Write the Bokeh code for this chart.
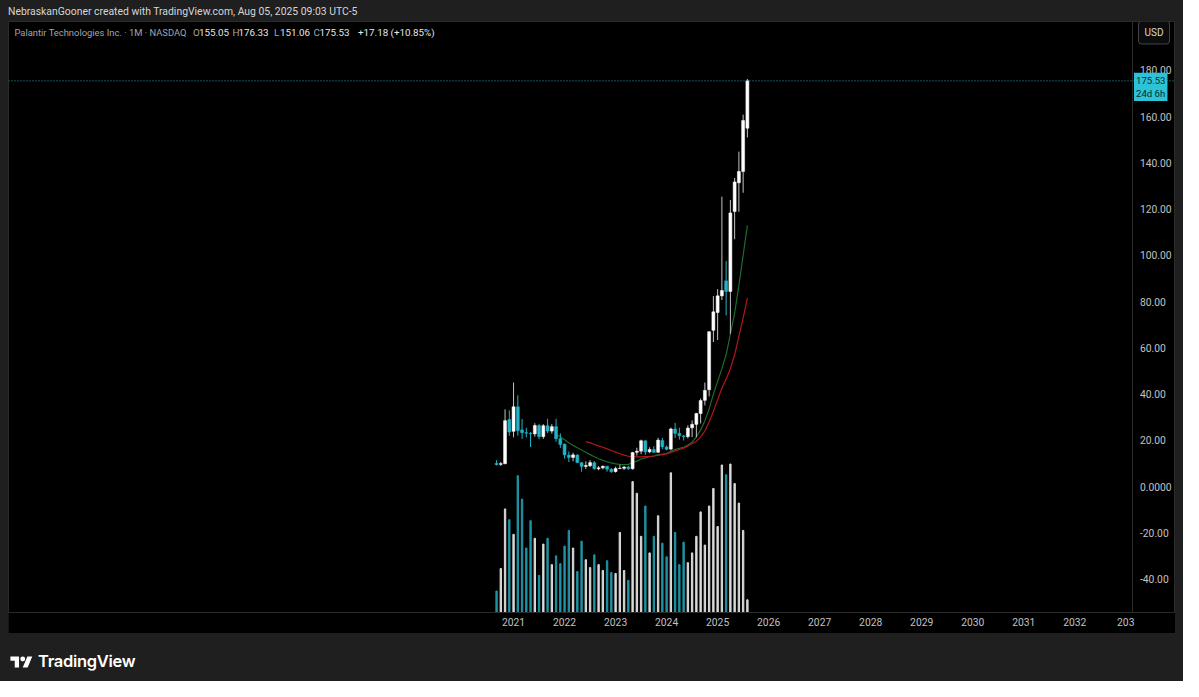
import pandas as pd
from bokeh.plotting import figure
from bokeh.models import (ColumnDataSource, Range1d, FixedTicker, NumeralTickFormatter,
                          Span, Label, Div)
from bokeh.layouts import column, row
from bokeh.embed import file_html
from bokeh.resources import INLINE

# ---------------- data (monthly PLTR candles) ----------------
start_month = "2020-09"
opens = [10.00, 9.60, 9.90, 29.00, 23.90, 34.50, 24.50, 23.30, 23.00, 22.80, 26.40, 21.60,
         26.30, 24.00, 25.90, 20.70, 18.30, 13.60, 12.60, 13.60, 10.30, 8.70, 9.00, 10.30,
         7.70, 8.10, 8.80, 7.50, 6.50, 7.80, 7.90, 8.40, 7.70, 14.80, 15.30, 19.80,
         15.00, 16.00, 14.80, 19.90, 17.10, 16.20, 24.90, 23.00, 21.90, 21.60, 25.40, 26.90,
         31.60, 37.30, 41.90, 67.60, 75.30, 82.50, 89.00, 84.40, 119.00, 131.40, 136.30, 155.05]
highs = [11.40, 10.60, 33.40, 33.00, 45.00, 39.50, 29.20, 25.40, 23.60, 27.40, 27.00, 27.00,
         29.30, 27.00, 29.30, 23.00, 18.60, 15.20, 14.60, 14.00, 10.60, 10.90, 11.40, 11.00,
         8.80, 9.00, 8.90, 7.90, 8.60, 9.40, 8.80, 9.00, 15.00, 16.80, 20.30, 19.90,
         17.00, 17.50, 21.10, 21.00, 17.80, 25.50, 27.50, 25.40, 22.30, 26.50, 28.60, 31.90,
         38.10, 45.00, 67.20, 82.40, 85.40, 125.40, 97.60, 124.00, 133.50, 144.90, 160.90, 176.33]
lows = [9.10, 8.90, 9.60, 21.90, 21.30, 22.00, 20.60, 21.30, 17.10, 21.60, 20.50, 20.60,
        23.10, 22.90, 19.40, 16.70, 12.10, 10.60, 10.90, 10.20, 6.40, 7.60, 8.40, 7.30,
        7.00, 7.40, 6.40, 6.00, 6.00, 7.50, 7.20, 7.30, 7.30, 13.40, 14.00, 13.70,
        14.40, 14.60, 14.70, 16.20, 15.70, 15.70, 21.00, 20.30, 19.90, 20.80, 21.40, 21.30,
        27.30, 35.10, 39.00, 62.50, 63.40, 80.70, 74.00, 66.10, 107.00, 118.90, 127.10, 151.06]
closes = [9.50, 9.90, 28.50, 23.60, 34.50, 24.20, 23.30, 23.10, 22.80, 26.40, 21.60, 26.30,
          24.00, 25.90, 20.70, 18.20, 13.70, 12.60, 13.70, 10.35, 8.70, 9.10, 10.35, 7.70,
          8.10, 8.80, 7.50, 6.40, 7.80, 7.90, 8.45, 7.70, 14.70, 15.30, 19.80, 15.00,
          16.00, 14.80, 20.10, 17.20, 16.10, 24.90, 23.00, 22.00, 21.60, 25.30, 26.90, 31.60,
          37.20, 41.60, 66.97, 75.60, 82.50, 84.80, 84.40, 118.40, 131.80, 136.30, 158.35, 175.53]
volumes = [220, 450, 1060, 950, 800, 1400, 1160, 660, 940, 760, 380, 700,
           760, 490, 580, 500, 680, 840, 660, 420, 730, 540, 460, 590,
           490, 430, 530, 410, 400, 820, 430, 330, 1340, 1220, 780, 1090,
           610, 780, 990, 710, 570, 1430, 820, 490, 720, 510, 610, 780,
           1030, 690, 1090, 1270, 880, 1510, 1410, 1520, 1320, 1120, 840, 130]

ma_fast_start = "2021-11"
ma_fast = [22.5, 21.5, 20.2, 18.9, 17.8, 16.8, 15.8, 14.8, 13.8, 12.9, 12.0, 11.3, 10.7,
           10.2, 9.8, 9.6, 9.5, 9.6, 10.3, 11.0, 11.9, 12.4, 12.9, 13.2, 13.8, 14.0, 14.3,
           15.3, 16.0, 16.5, 17.0, 18.0, 19.2, 21.5, 24.5, 28.5, 33.5, 40.0, 45.5, 51.0,
           57.0, 66.0, 75.0, 87.0, 100.0, 113.0]
ma_slow_start = "2022-06"
ma_slow = [19.4, 18.9, 18.3, 17.6, 17.0, 16.3, 15.6, 14.9, 14.2, 13.6, 13.1, 12.9, 12.8,
           12.8, 12.9, 13.0, 13.2, 13.5, 13.8, 14.1, 14.8, 15.4, 16.0, 16.6, 17.6, 18.6,
           19.5, 21.5, 24.0, 28.0, 32.5, 37.5, 42.5, 46.5, 51.0, 57.0, 65.0, 73.0, 81.5]

year_labels = ["2021", "2022", "2023", "2024", "2025", "2026", "2027", "2028",
               "2029", "2030", "2031", "2032", "203"]
price_ticks = [-40, -20, 0, 20, 40, 60, 80, 100, 120, 140, 160, 180]

header_text = "NebraskanGooner created with TradingView.com, Aug 05, 2025 09:03 UTC-5"
symbol_title = "Palantir Technologies Inc. · 1M · NASDAQ"
change_text = "+17.18 (+10.85%)"
countdown = "24d 6h"

# ---------------- styling / layout ----------------
UP = "#ffffff"
UP_WICK = "#c4c4c4"
DOWN = "#22b4c6"
VOL_UP = "#dadada"
VOL_DOWN = "#1f93a3"
OUTER = "#1f1f1f"
FONT = "Roboto"
X_VIEW = (-118.8, 155.7)      # visible months (0 = Jan 2021)
Y_VIEW = (-54.5, 201.2)       # visible price range
PRICE_SCALE_AT = 145.7        # month position of the price-scale separator


def month_index(periods):
    return [(q.year - 2021) * 12 + (q.month - 1) for q in periods]


months = pd.period_range(start_month, periods=len(closes), freq="M")
xs = month_index(months)
up = [c >= o for o, c in zip(opens, closes)]
src = ColumnDataSource(dict(
    x=xs,
    top=[max(o, c) for o, c in zip(opens, closes)],
    bottom=[min(o, c) for o, c in zip(opens, closes)],
    high=highs, low=lows, vol=volumes,
    body=[UP if u else DOWN for u in up],
    wick=[UP_WICK if u else DOWN for u in up],
    vcol=[VOL_UP if u else VOL_DOWN for u in up],
))

fast_x = month_index(pd.period_range(ma_fast_start, periods=len(ma_fast), freq="M"))
slow_x = month_index(pd.period_range(ma_slow_start, periods=len(ma_slow), freq="M"))

p = figure(width=1167, height=612,
           x_range=Range1d(*X_VIEW), y_range=Range1d(*Y_VIEW),
           output_backend="svg", toolbar_location=None, y_axis_location="right",
           background_fill_color="black", border_fill_color="black",
           min_border_left=0, min_border_top=0, min_border_right=0, min_border_bottom=21,
           outline_line_color="#2b2b2b", margin=0)
p.grid.visible = False
p.extra_y_ranges = {"vol": Range1d(0, 6050)}

# volume (overlay at the bottom of the pane)
p.vbar(x="x", top="vol", bottom=0, width=0.32, color="vcol", y_range_name="vol", source=src)

# moving averages
p.line(fast_x, ma_fast, line_color="#1c6b2c", line_width=1.2)
p.line(slow_x, ma_slow, line_color="#b3161c", line_width=1.2)

# candles
p.segment(x0="x", y0="low", x1="x", y1="high", line_color="wick", line_width=1, source=src)
p.vbar(x="x", top="top", bottom="bottom", width=0.7, fill_color="body", line_color="body",
       line_width=0.5, source=src)

# last price line
p.add_layout(Span(location=closes[-1], dimension="width", line_color="#2f9fb0",
                  line_dash="1 2", line_width=1))

# price scale (drawn at the pane separator)
ya = p.yaxis[0]
ya.fixed_location = PRICE_SCALE_AT
ya.ticker = FixedTicker(ticks=price_ticks)
ya.formatter = NumeralTickFormatter(format="0.00")
ya.major_label_overrides = {0: "0.0000"}
ya.major_tick_line_color = None
ya.minor_tick_line_color = None
ya.major_tick_out = 0
ya.major_tick_in = 0
ya.minor_tick_out = 0
ya.axis_line_color = "#2b2b2b"
ya.major_label_text_color = "#c2c2c2"
ya.major_label_text_font = FONT
ya.major_label_text_font_size = "10.3px"
ya.major_label_standoff = 7

# time scale
xa = p.xaxis[0]
xa.ticker = FixedTicker(ticks=[12 * i for i in range(len(year_labels))])
xa.major_label_overrides = {12 * i: lab for i, lab in enumerate(year_labels)}
xa.major_tick_line_color = None
xa.minor_tick_line_color = None
xa.major_tick_out = 0
xa.major_tick_in = 0
xa.minor_tick_out = 0
xa.axis_line_color = "#2b2b2b"
xa.major_label_text_color = "#c2c2c2"
xa.major_label_text_font = FONT
xa.major_label_text_font_size = "10.3px"
xa.major_label_standoff = 5

# legend line (top-left of the pane)
legend_y = 580
pieces = [
    (symbol_title, "#a3a6af", 6, "9.4px"),
    ("O", "#a3a6af", 184.5, "9.8px"), (f"{opens[-1]:.2f}", "#e6e6e6", 190.5, "9.8px"),
    ("H", "#a3a6af", 224, "9.8px"), (f"{highs[-1]:.2f}", "#e6e6e6", 230, "9.8px"),
    ("L", "#a3a6af", 265.5, "9.8px"), (f"{lows[-1]:.2f}", "#e6e6e6", 271.5, "9.8px"),
    ("C", "#a3a6af", 305, "9.8px"), (f"{closes[-1]:.2f}", "#e6e6e6", 311, "9.8px"),
    (change_text, "#e6e6e6", 349.5, "9.8px"),
]
for txt, col, sx, fs in pieces:
    p.add_layout(Label(x=sx, y=legend_y, x_units="screen", y_units="screen", text=txt,
                       text_color=col, text_font=FONT, text_font_size=fs,
                       text_baseline="middle", text_align="left"))

# USD button
p.add_layout(Label(x=1145.5, y=legend_y, x_units="screen", y_units="screen", text="USD",
                   text_color="#d8d8d8", text_font=FONT, text_font_size="10px",
                   text_baseline="middle", text_align="center",
                   background_fill_color="#0c0c0c", border_line_color="#444444",
                   border_line_width=1, padding=6, border_radius=3))

# last price tag on the price scale
p.add_layout(Label(x=PRICE_SCALE_AT, y=closes[-1], x_units="data", y_units="data",
                   text=f"{closes[-1]:.2f}\n{countdown}",
                   text_color="#0b2a30", text_font=FONT, text_font_size="9.6px",
                   text_baseline="top", text_align="left", x_offset=1, y_offset=8,
                   background_fill_color="#2cc3d6", padding=2))

header = Div(text=header_text, width=1183, height=21, margin=0,
             styles={"background-color": OUTER, "color": "#d6d6d6", "font-family": FONT,
                     "font-size": "10.4px", "line-height": "23px", "padding-left": "8px",
                     "white-space": "nowrap", "box-sizing": "border-box"})

side_l = Div(text="", width=8, height=612, margin=0, styles={"background-color": OUTER})
side_r = Div(text="", width=8, height=612, margin=0, styles={"background-color": OUTER})

logo_svg = ('<svg width="23" height="16" viewBox="0 0 36 26" style="margin-right:5px">'
            '<path fill="#ffffff" d="M14 22H7V11H0V4h14v18zM28 22h-8l7.5-18h8L28 22z"/>'
            '<circle fill="#ffffff" cx="20" cy="8" r="4"/></svg>')
footer = Div(text=('<div style="display:flex;align-items:center;padding:17px 0 0 10px;">'
                   + logo_svg +
                   '<span style="color:#ffffff;font-family:Inter,Roboto;font-size:16.5px;'
                   'font-weight:600;letter-spacing:-0.3px">TradingView</span></div>'),
             width=1183, height=48, margin=0,
             styles={"background-color": OUTER})

layout = column(header, row(side_l, p, side_r, spacing=0, margin=0), footer,
                spacing=0, margin=0, styles={"background-color": OUTER})

open("out.html", "w").write(file_html(layout, INLINE))
